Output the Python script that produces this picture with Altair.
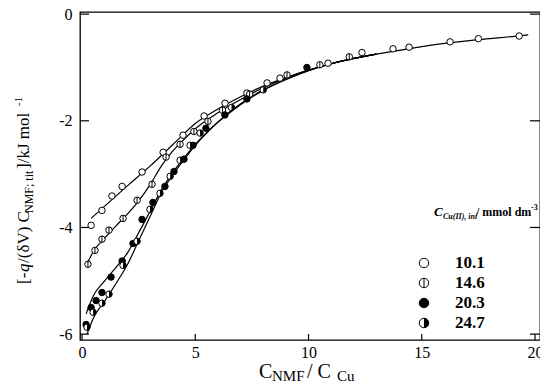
import altair as alt
import pandas as pd

# ---------------- data ----------------
series_names = ["10.1", "14.6", "20.3", "24.7"]

# measured points (x = C_NMF / C_Cu, y = enthalpy)
pts_101_x = [0.40, 0.88, 1.32, 1.77, 2.65, 3.58, 4.46, 5.39, 6.31, 7.28, 8.17, 8.74, 10.86, 12.36, 13.73, 14.44, 16.25, 17.5, 19.3]
pts_101_y = [-3.96, -3.68, -3.41, -3.23, -2.96, -2.59, -2.27, -1.91, -1.67, -1.48, -1.29, -1.20, -0.92, -0.72, -0.65, -0.62, -0.52, -0.46, -0.41]

pts_146_x = [0.26, 0.57, 0.88, 1.19, 1.81, 2.43, 3.09, 3.71, 4.33, 4.94, 5.56, 6.20, 7.40, 9.05, 10.5, 11.8]
pts_146_y = [-4.69, -4.43, -4.22, -4.05, -3.83, -3.49, -3.19, -2.68, -2.44, -2.20, -2.01, -1.80, -1.50, -1.14, -0.95, -0.80]

pts_203_x = [0.18, 0.40, 0.62, 0.88, 1.28, 1.77, 2.25, 2.65, 3.13, 3.66, 4.06, 4.50, 4.90, 5.47, 6.31, 7.28, 9.93]
pts_203_y = [-5.82, -5.50, -5.37, -5.22, -4.93, -4.63, -4.30, -3.85, -3.53, -3.23, -2.95, -2.72, -2.46, -2.14, -1.89, -1.59, -1.00]

pts_247_x = [0.22, 0.49, 0.88, 1.19, 1.81, 2.43, 3.00, 3.44, 3.89, 4.33, 4.77, 5.21, 6.6, 8.0]
pts_247_y = [-5.87, -5.59, -5.42, -5.25, -4.71, -4.26, -3.66, -3.36, -3.04, -2.74, -2.46, -2.23, -1.75, -1.42]

# fitted curves
crv_101_x = [0.4, 1, 2, 3, 4, 5, 6, 7, 8, 9, 10, 11, 12, 13, 14, 15, 16, 17, 18, 19, 19.7]
crv_101_y = [-3.83, -3.6, -3.22, -2.85, -2.45, -2.05, -1.78, -1.55, -1.35, -1.19, -1.05, -0.93, -0.83, -0.75, -0.68, -0.61, -0.55, -0.50, -0.46, -0.42, -0.39]

crv_146_x = [0.2, 0.5, 1, 1.5, 2, 2.5, 3, 3.5, 4, 4.5, 5, 6, 7, 8, 9, 10, 11, 12, 13]
crv_146_y = [-4.70, -4.45, -4.2, -3.97, -3.75, -3.5, -3.2, -2.85, -2.57, -2.35, -2.15, -1.85, -1.6, -1.38, -1.2, -1.05, -0.93, -0.83, -0.75]

crv_203_x = [0.18, 0.5, 1, 1.5, 2, 2.5, 3, 3.5, 4, 4.5, 5, 5.5, 6, 7, 8, 9, 10, 11, 12, 13]
crv_203_y = [-5.62, -5.28, -5.0, -4.75, -4.48, -4.1, -3.7, -3.3, -2.97, -2.7, -2.44, -2.22, -2.02, -1.68, -1.42, -1.22, -1.06, -0.93, -0.83, -0.75]

crv_247_x = [0.22, 0.5, 1, 1.5, 2, 2.5, 3, 3.5, 4, 4.5, 5, 5.5, 6, 7, 8, 9, 10, 11, 12, 13]
crv_247_y = [-6.0, -5.7, -5.38, -5.05, -4.7, -4.25, -3.8, -3.35, -3.02, -2.73, -2.46, -2.23, -2.03, -1.7, -1.43, -1.23, -1.06, -0.93, -0.83, -0.75]

x_ticks = [0, 5, 10, 15, 20]
y_ticks = [-6, -4, -2, 0]

# ---------------- tables ----------------
def mk(xs, ys, name):
    return pd.DataFrame({"x": xs, "y": ys, "s": name})

pts = pd.concat([mk(pts_101_x, pts_101_y, "10.1"), mk(pts_146_x, pts_146_y, "14.6"),
                 mk(pts_203_x, pts_203_y, "20.3"), mk(pts_247_x, pts_247_y, "24.7")])
crv = pd.concat([mk(crv_101_x, crv_101_y, "10.1"), mk(crv_146_x, crv_146_y, "14.6"),
                 mk(crv_203_x, crv_203_y, "20.3"), mk(crv_247_x, crv_247_y, "24.7")])

W, H = 460, 328
XD = [-0.09, 20.22]
YD = [-6.11, 0.04]
FONT = "Liberation Serif"

xs = alt.Scale(domain=XD, nice=False, zero=False)
ys = alt.Scale(domain=YD, nice=False, zero=False)

XAX = alt.Axis(values=x_ticks, ticks=False, domain=False, grid=False,
               labelFont=FONT, labelFontSize=16, labelColor="black",
               labelPadding=4, title=None, labelFlush=False)
YAX = alt.Axis(values=y_ticks, ticks=False, domain=False, grid=False,
               labelFont=FONT, labelFontSize=16, labelColor="black",
               labelPadding=8, title=None, labelExpr="'' + datum.value")
X = alt.X("x:Q", scale=xs, axis=XAX)
Y = alt.Y("y:Q", scale=ys, axis=YAX)

lines = alt.Chart(crv).mark_line(color="black", strokeWidth=1.2, interpolate="monotone").encode(
    x=X, y=Y, detail="s:N")

SZ = 42
base = alt.Chart(pts)
p101 = base.transform_filter("datum.s == '10.1'").mark_point(
    shape="circle", filled=True, fill="white", stroke="black", strokeWidth=1, size=SZ, opacity=1).encode(x=X, y=Y)
p146 = base.transform_filter("datum.s == '14.6'").mark_point(
    shape="circle", filled=True, fill="white", stroke="black", strokeWidth=1, size=SZ, opacity=1).encode(x=X, y=Y)
p146b = base.transform_filter("datum.s == '14.6'").mark_point(
    shape="M0,-1L0,1", stroke="black", strokeWidth=1, size=SZ, opacity=1).encode(x=X, y=Y)
p203 = base.transform_filter("datum.s == '20.3'").mark_point(
    shape="circle", filled=True, fill="black", stroke="black", strokeWidth=1, size=SZ, opacity=1).encode(x=X, y=Y)
p247 = base.transform_filter("datum.s == '24.7'").mark_point(
    shape="circle", filled=True, fill="white", stroke="black", strokeWidth=1, size=SZ, opacity=1).encode(x=X, y=Y)
p247b = base.transform_filter("datum.s == '24.7'").mark_point(
    shape="M0,-1A1,1,0,0,1,0,1Z", filled=True, fill="black", strokeWidth=0, size=SZ, opacity=1).encode(x=X, y=Y)

# inward ticks (share the same axis definitions so the axes stay)
yt = pd.DataFrame({"y": y_ticks})
xt = pd.DataFrame({"x": x_ticks})
ytl = alt.Chart(yt).mark_rule(color="black", strokeWidth=1.2).encode(
    y=Y, x=alt.value(0), x2=alt.value(9))
ytr = alt.Chart(yt).mark_rule(color="black", strokeWidth=1.2).encode(
    y=Y, x=alt.value(W - 10), x2=alt.value(W))
xtb = alt.Chart(xt).mark_rule(color="black", strokeWidth=1.2).encode(
    x=X, y=alt.value(H - 6), y2=alt.value(H))

# ---------------- titles ----------------
def txt(s, x, y, size, angle=0, italic=False, bold=False, align="left", baseline="alphabetic"):
    kw = dict(text=s, font=FONT, fontSize=size, align=align, baseline=baseline, color="black")
    if angle:
        kw["angle"] = angle
    if italic:
        kw["fontStyle"] = "italic"
    if bold:
        kw["fontWeight"] = "bold"
    return alt.Chart(pd.DataFrame({"a": [0]})).mark_text(**kw).encode(x=alt.value(x), y=alt.value(y))

# x title: C_NMF / C_Cu  (plot-relative pixel coordinates)
xt_base = 366
xtitle = [
    txt("C", 179, xt_base, 20),
    txt("NMF", 192, xt_base + 3, 15),
    txt("/ C", 227, xt_base, 20),
    txt("Cu", 257, xt_base + 3, 15),
]

# y title rotated
yx = -51
ytitle = [
    txt("[-", yx, 272, 17, angle=270),
    txt("q", yx, 260, 17, angle=270, italic=True),
    txt("/(δV) C", yx, 251, 17, angle=270),
    txt("NMF; tit", yx + 4, 201, 12, angle=270),
    txt(" ]/kJ mol", yx, 157, 17, angle=270),
    txt("-1", yx - 7, 94, 11, angle=270),
]

# legend
lg_x = 344
lg_rows = [251, 271, 291, 311]
legend = [
    txt("C", 354, 204, 13, italic=True, bold=True),
    txt("Cu(II), ini", 363, 207, 8, italic=True, bold=True),
    txt("/ mmol dm", 396, 204, 12, bold=True),
    txt("-3", 451, 198, 8, bold=True),
]
for name, ry in zip(series_names, lg_rows):
    legend.append(txt(name, 375, ry, 17, bold=True, baseline="middle"))

lsz = 90
def lsym(shape, fill, ry, filled=True, sw=1.0):
    kw = dict(shape=shape, size=lsz, opacity=1, strokeWidth=sw, stroke="black")
    if filled:
        kw.update(filled=True, fill=fill)
    return alt.Chart(pd.DataFrame({"a": [0]})).mark_point(**kw).encode(x=alt.value(lg_x), y=alt.value(ry))

legend += [
    lsym("circle", "white", lg_rows[0]),
    lsym("circle", "white", lg_rows[1]),
    lsym("M0,-1L0,1", None, lg_rows[1], filled=False),
    lsym("circle", "black", lg_rows[2]),
    lsym("circle", "white", lg_rows[3]),
    alt.Chart(pd.DataFrame({"a": [0]})).mark_point(shape="M0,-1A1,1,0,0,1,0,1Z", filled=True, fill="black",
                                                   strokeWidth=0, size=lsz, opacity=1).encode(
        x=alt.value(lg_x), y=alt.value(lg_rows[3])),
]

chart = alt.layer(lines, p101, p146, p146b, p203, p247, p247b, ytl, ytr, xtb,
                  *xtitle, *ytitle, *legend).properties(
    width=W, height=H,
    autosize=alt.AutoSizeParams(type="none"),
    padding={"left": 72, "top": 4, "right": 0, "bottom": 43},
    background="white",
).configure_view(stroke="black", strokeWidth=1.3)

chart.save("out.html", embed_options={"renderer": "svg", "actions": False})
